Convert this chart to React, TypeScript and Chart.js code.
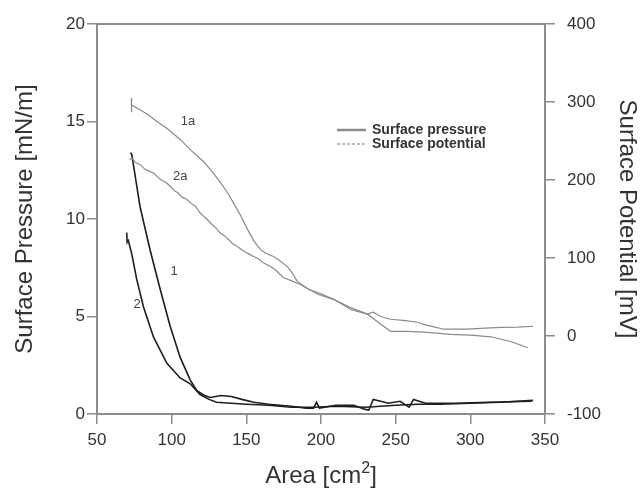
import { useEffect, useRef } from 'react';
import { Chart, registerables } from 'chart.js';

Chart.register(...registerables);

const FONT = '"Liberation Sans", Arial, Helvetica, sans-serif';

// ---- data ----
// Curve 1: surface pressure [mN/m] vs area [cm2]
const curve1Area = [72.5, 73.3, 78.9, 85.6, 92.3, 99, 105.7, 112.4, 116.9, 122, 126, 133, 140, 147, 155, 165, 180, 190, 195, 197, 199, 210, 222, 229, 232, 235, 240, 245, 253, 259, 262, 270, 290, 312, 341];
const curve1Pressure = [13.4, 13.3, 10.6, 8.4, 6.4, 4.5, 2.9, 1.75, 1.2, 0.95, 0.85, 0.95, 0.9, 0.75, 0.6, 0.5, 0.4, 0.3, 0.3, 0.6, 0.3, 0.45, 0.45, 0.25, 0.2, 0.75, 0.65, 0.55, 0.65, 0.35, 0.75, 0.55, 0.55, 0.6, 0.65];

// Curve 2: surface pressure
const curve2Area = [69.9, 70.2, 71, 73.3, 76.6, 81.1, 87.8, 96.8, 105.7, 112.4, 119, 125, 130, 140, 150, 165, 180, 195, 210, 230, 250, 265, 280, 300, 320, 342];
const curve2Pressure = [9.3, 8.8, 8.9, 8.2, 6.9, 5.5, 3.95, 2.6, 1.85, 1.55, 1.0, 0.75, 0.6, 0.55, 0.5, 0.45, 0.35, 0.35, 0.4, 0.35, 0.45, 0.5, 0.5, 0.55, 0.6, 0.7];

// Curve 1a: surface potential [mV]
const curve1aArea = [73.0, 73.0, 73.3, 78.9, 84, 90.1, 97, 105.7, 113, 121.1, 127, 132.6, 137, 141.3, 146, 150.7, 155, 159.4, 163, 168.1, 172, 177.5, 181, 184.2, 191.6, 200, 208.4, 214, 219.8, 231.2, 238, 246.6, 258, 268.8, 286.9, 300, 313.8, 327, 338.6];
const curve1aPotential = [305, 287, 296, 290, 284, 275, 266, 252, 238, 224, 211, 197, 185, 171, 155, 137, 122, 111, 106, 102, 97, 89, 80, 70, 60, 54, 47, 41, 34, 28, 18, 6, 6, 5, 2, 1, -1, -7, -15];

// Curve 2a: surface potential
const curve2aArea = [72.0, 73.3, 76, 78.9, 82, 84, 87.8, 91, 93, 96, 99, 102, 104, 107, 110.2, 113, 116, 119, 121.3, 124, 127, 130, 132.6, 135, 138, 141, 143.8, 146, 149, 152, 154.9, 158, 161.4, 166.1, 170, 174.8, 180, 186.2, 191, 197.7, 208.4, 219, 231, 235, 240, 246.6, 255, 264.8, 268.8, 275, 282.2, 298.3, 310, 320.5, 332, 342];
const curve2aPotential = [226, 228, 222, 220, 214, 212, 209, 203, 200, 197, 192, 186, 184, 178, 175, 170, 166, 158, 154, 149, 143, 138, 132, 129, 124, 118, 115, 112, 108, 105, 102, 99, 94, 89, 84, 75, 71, 66, 61, 53.5, 47, 37, 28, 30.5, 25, 21.5, 20, 17.6, 15, 12, 8.7, 8.7, 10, 11, 11.5, 12.5];

// curve labels placed in data coordinates (area, pressure)
const labelTexts = ['1a', '2a', '1', '2'];
const labelAreas = [111, 105.7, 101.7, 76.8];
const labelPressures = [15.0, 12.2, 7.3, 5.6];

const xTicks = [50, 100, 150, 200, 250, 300, 350];
const yTicks = [0, 5, 10, 15, 20];
const y2Ticks = [-100, 0, 100, 200, 300, 400];

const legendLabels = ['Surface pressure', 'Surface potential'];

const zip = (xs: number[], ys: number[]) => xs.map((x, i) => ({ x, y: ys[i] }));

const AXIS = '#8c8c8c';
const TEXT = '#333333';

const overlay = {
  id: 'overlay',
  afterDraw(chart: any) {
    const { ctx, chartArea: ca, scales } = chart;
    ctx.save();
    // top frame line
    ctx.strokeStyle = AXIS;
    ctx.lineWidth = 2;
    ctx.beginPath();
    ctx.moveTo(ca.left - 1, ca.top);
    ctx.lineTo(ca.right + 1, ca.top);
    ctx.stroke();

    // curve labels
    ctx.fillStyle = '#444';
    ctx.font = `13px ${FONT}`;
    ctx.textAlign = 'center';
    ctx.textBaseline = 'middle';
    labelTexts.forEach((t, i) => {
      ctx.fillText(t, scales.x.getPixelForValue(labelAreas[i]), scales.y.getPixelForValue(labelPressures[i]));
    });

    // legend
    const lx = ca.left + 240;
    const ly = ca.top + 106;
    ctx.lineWidth = 2.5;
    ctx.strokeStyle = '#8a8a8a';
    ctx.setLineDash([]);
    ctx.beginPath();
    ctx.moveTo(lx, ly);
    ctx.lineTo(lx + 29, ly);
    ctx.stroke();
    ctx.lineWidth = 2;
    ctx.strokeStyle = '#bdbdbd';
    ctx.setLineDash([3, 2]);
    ctx.beginPath();
    ctx.moveTo(lx, ly + 14);
    ctx.lineTo(lx + 29, ly + 14);
    ctx.stroke();
    ctx.setLineDash([]);
    ctx.fillStyle = TEXT;
    ctx.font = `bold 14px ${FONT}`;
    ctx.textAlign = 'left';
    ctx.fillText(legendLabels[0], lx + 35, ly);
    ctx.fillText(legendLabels[1], lx + 35, ly + 14);

    // axis titles
    const cy = (ca.top + ca.bottom) / 2;
    ctx.font = `24px ${FONT}`;
    ctx.fillStyle = TEXT;
    ctx.textAlign = 'center';
    ctx.textBaseline = 'middle';
    ctx.save();
    ctx.translate(25, cy);
    ctx.rotate(-Math.PI / 2);
    ctx.fillText('Surface Pressure [mN/m]', 0, 0);
    ctx.restore();
    ctx.save();
    ctx.translate(627, cy);
    ctx.rotate(Math.PI / 2);
    ctx.fillText('Surface Potential [mV]', 0, 0);
    ctx.restore();

    // bottom title with superscript
    const a = 'Area [cm';
    const b = ']';
    ctx.font = `24px ${FONT}`;
    const wa = ctx.measureText(a).width;
    const wb = ctx.measureText(b).width;
    ctx.font = `16px ${FONT}`;
    const ws = ctx.measureText('2').width;
    const total = wa + ws + wb;
    const cx = (ca.left + ca.right) / 2;
    const x0 = cx - total / 2;
    const base = 483;
    ctx.textAlign = 'left';
    ctx.textBaseline = 'alphabetic';
    ctx.font = `24px ${FONT}`;
    ctx.fillText(a, x0, base);
    ctx.font = `16px ${FONT}`;
    ctx.fillText('2', x0 + wa, base - 10);
    ctx.font = `24px ${FONT}`;
    ctx.fillText(b, x0 + wa + ws, base);
    ctx.restore();
  },
};

export default function App() {
  const ref = useRef<HTMLCanvasElement>(null);
  useEffect(() => {
    const tickFont = { family: FONT, size: 17 };
    const chart = new Chart(ref.current as HTMLCanvasElement, {
      type: 'line',
      data: {
        datasets: [
          { label: '1a', data: zip(curve1aArea, curve1aPotential), yAxisID: 'y2', borderColor: '#8a8a8a', borderWidth: 1.2, pointRadius: 0, tension: 0, fill: false },
          { label: '2a', data: zip(curve2aArea, curve2aPotential), yAxisID: 'y2', borderColor: '#8a8a8a', borderWidth: 1.2, pointRadius: 0, tension: 0, fill: false },
          { label: '1', data: zip(curve1Area, curve1Pressure), yAxisID: 'y', borderColor: '#1e1e1e', borderWidth: 1.6, pointRadius: 0, tension: 0, fill: false },
          { label: '2', data: zip(curve2Area, curve2Pressure), yAxisID: 'y', borderColor: '#1e1e1e', borderWidth: 1.6, pointRadius: 0, tension: 0, fill: false },
        ],
      },
      options: {
        responsive: false,
        animation: false,
        devicePixelRatio: 1,
        layout: { padding: { top: 24, left: 0, right: 0, bottom: 0 } },
        plugins: { legend: { display: false }, tooltip: { enabled: false } },
        scales: {
          x: {
            type: 'linear',
            min: 50,
            max: 350,
            afterBuildTicks: (s: any) => { s.ticks = xTicks.map((v) => ({ value: v })); },
            ticks: { font: tickFont, color: TEXT, padding: 6, maxRotation: 0 },
            grid: { drawOnChartArea: false, tickLength: 10, color: AXIS, lineWidth: 1.5 },
            border: { color: AXIS, width: 2 },
            afterFit: (s: any) => { s.height = 77; },
          },
          y: {
            type: 'linear',
            position: 'left',
            min: 0,
            max: 20,
            afterBuildTicks: (s: any) => { s.ticks = yTicks.map((v) => ({ value: v })); },
            ticks: { font: tickFont, color: TEXT, padding: 2 },
            grid: { drawOnChartArea: false, tickLength: 10, color: AXIS, lineWidth: 1.5 },
            border: { color: AXIS, width: 2 },
            afterFit: (s: any) => { s.width = 97; },
          },
          y2: {
            type: 'linear',
            position: 'right',
            min: -100,
            max: 400,
            afterBuildTicks: (s: any) => { s.ticks = y2Ticks.map((v) => ({ value: v })); },
            ticks: { font: tickFont, color: TEXT, padding: 12 },
            grid: { drawOnChartArea: false, tickLength: 10, color: AXIS, lineWidth: 1.5 },
            border: { color: AXIS, width: 2 },
            afterFit: (s: any) => { s.width = 99; },
          },
        },
      },
      plugins: [overlay],
    } as any);
    return () => chart.destroy();
  }, []);
  return (
    <div style={{ position: 'fixed', left: 0, top: 0, width: 644, height: 491, background: '#fff' }}>
      <canvas ref={ref} width={644} height={491} style={{ display: 'block' }} />
    </div>
  );
}
